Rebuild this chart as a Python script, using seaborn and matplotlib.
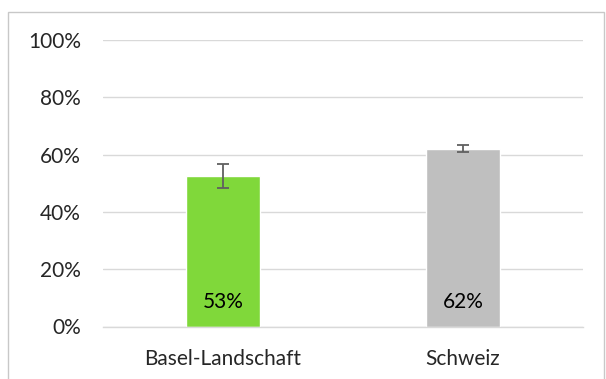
import pandas as pd
import seaborn as sns
import matplotlib.pyplot as plt
from matplotlib.patches import Rectangle

regions = ['Basel-Landschaft', 'Schweiz']
share = [0.527, 0.62]
err_low = [0.485, 0.609]
err_high = [0.567, 0.632]
bar_colors = ['#80d83a', '#bfbfbf']

sns.set_style('white')
plt.rcParams['font.family'] = ['Lato', 'DejaVu Sans']

df = pd.DataFrame({'region': regions, 'share': share})

fig = plt.figure(figsize=(6.06, 3.79), dpi=100)
ax = fig.add_axes([103 / 606, 1 - 326.5 / 379, 480 / 606, 286.5 / 379])

sns.barplot(x='region', y='share', data=df, hue='region', palette=bar_colors,
            width=0.31, saturation=1, legend=False, errorbar=None, ax=ax, zorder=2)

# error bars
yerr = [[s - l for s, l in zip(share, err_low)], [h - s for s, h in zip(share, err_high)]]
ax.errorbar(range(len(regions)), share, yerr=yerr, fmt='none', ecolor='#606060',
            elinewidth=1.3, capsize=4.5, capthick=1.3, zorder=3)

for i, v in enumerate(share):
    ax.text(i, 0.085, f'{v:.0%}', ha='center', va='center', fontsize=15, color='black', zorder=4)

ax.set_xlim(-0.5, 1.5)
ax.set_ylim(0, 1)
ax.set_yticks([0, 0.2, 0.4, 0.6, 0.8, 1.0])
ax.set_yticklabels(['0%', '20%', '40%', '60%', '80%', '100%'])
ax.yaxis.grid(True, color='#d9d9d9', linewidth=1.0, zorder=0)
ax.set_axisbelow(True)
ax.tick_params(axis='both', length=0, labelsize=15, pad=16)
ax.set_xlabel('')
ax.set_ylabel('')
for s in ['top', 'right', 'left']:
    ax.spines[s].set_visible(False)
ax.spines['bottom'].set_color('#d9d9d9')
ax.spines['bottom'].set_linewidth(1.0)

# chart frame
fig.patches.append(Rectangle((8 / 606, -0.05), 596 / 606, 1 - 12 / 379 + 0.05,
                             transform=fig.transFigure, fill=False,
                             edgecolor='#c8c8c8', linewidth=1.0))

plt.savefig('out.png', dpi=100)
